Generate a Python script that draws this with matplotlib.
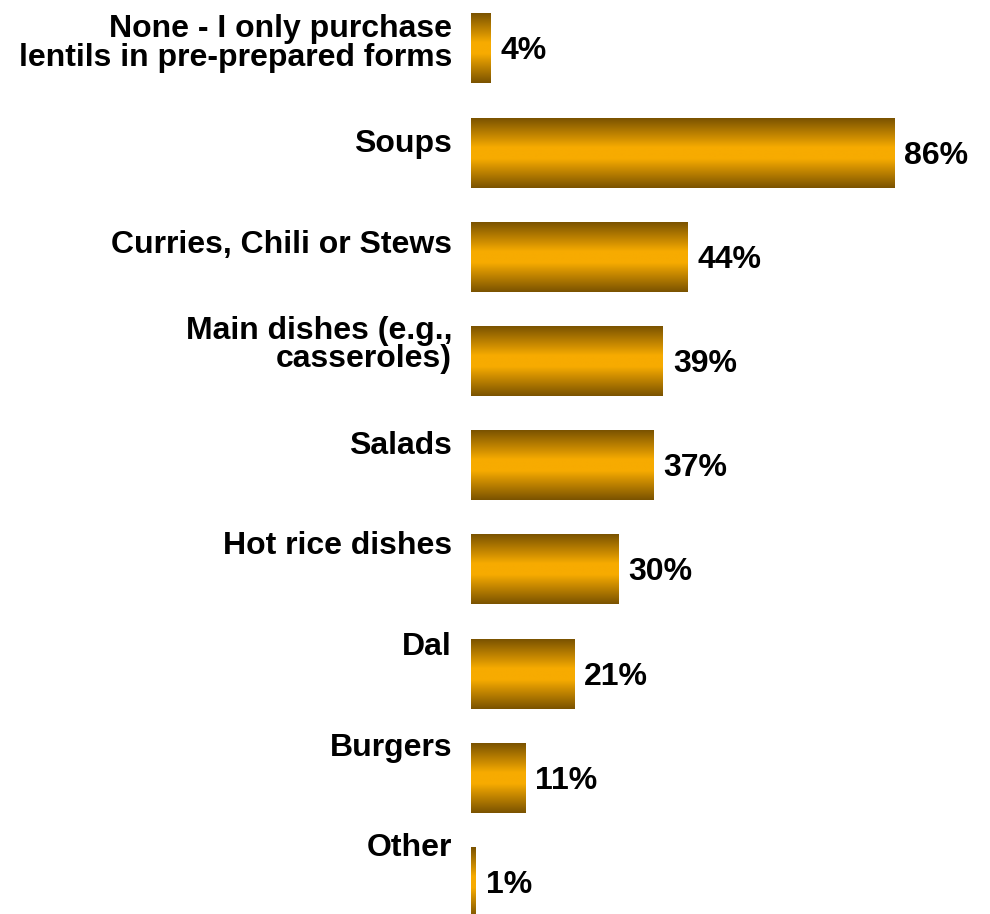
import numpy as np
import matplotlib.pyplot as plt
from matplotlib import font_manager
from matplotlib.colors import LinearSegmentedColormap

# Ways lentils are used (share of respondents, %)
categories = [
    "None - I only purchase\nlentils in pre-prepared forms",
    "Soups",
    "Curries, Chili or Stews",
    "Main dishes (e.g.,\ncasseroles)",
    "Salads",
    "Hot rice dishes",
    "Dal",
    "Burgers",
    "Other",
]
values = [4, 86, 44, 39, 37, 30, 21, 11, 1]

# pick the regular-width Liberation Sans Bold file directly
bold_files = [f for f in font_manager.findSystemFonts()
              if f.endswith('LiberationSans-Bold.ttf')]
if bold_files:
    label_font = font_manager.FontProperties(fname=bold_files[0], size=23)
else:
    label_font = font_manager.FontProperties(family='Liberation Sans', weight='bold',
                                             stretch='normal', size=23)

fig = plt.figure(figsize=(9.9, 9.14), dpi=100)
# axes spans full height; x=0 sits where the bars start
ax = fig.add_axes([471 / 990, 0, 492 / 990, 1])
ax.axis('off')

# dark-gold-dark vertical gradient for the bar fill
bar_cmap = LinearSegmentedColormap.from_list(
    'gold', [(0.0, '#7a5200'), (0.42, '#f7ab00'), (0.58, '#f7ab00'), (1.0, '#7a5200')])
grad = np.linspace(0, 1, 256).reshape(-1, 1)

y_pos = np.arange(len(categories))
bars = ax.barh(y_pos, values, height=0.67, color='none', edgecolor='none')

for bar in bars:
    x0, y0 = bar.get_x(), bar.get_y()
    w, h = bar.get_width(), bar.get_height()
    ax.imshow(grad, cmap=bar_cmap, aspect='auto',
              extent=(x0, x0 + w, y0 + h, y0), zorder=2)

ax.set_xlim(0, 100)
ax.set_ylim(8.306, -0.465)

for i, (cat, val) in enumerate(zip(categories, values)):
    # category label, right-aligned to the left of the bars
    ax.annotate(cat, xy=(0, i), xytext=(-19, 5 + 3.6 * i),
                textcoords='offset pixels', ha='right', va='center',
                fontproperties=label_font, linespacing=0.93,
                multialignment='right', annotation_clip=False)
    # value label just past the bar end
    ax.annotate(f"{val}%", xy=(val, i), xytext=(10, -3),
                textcoords='offset pixels', ha='left', va='center',
                fontproperties=label_font, annotation_clip=False)

fig.savefig('out.png', dpi=100)
